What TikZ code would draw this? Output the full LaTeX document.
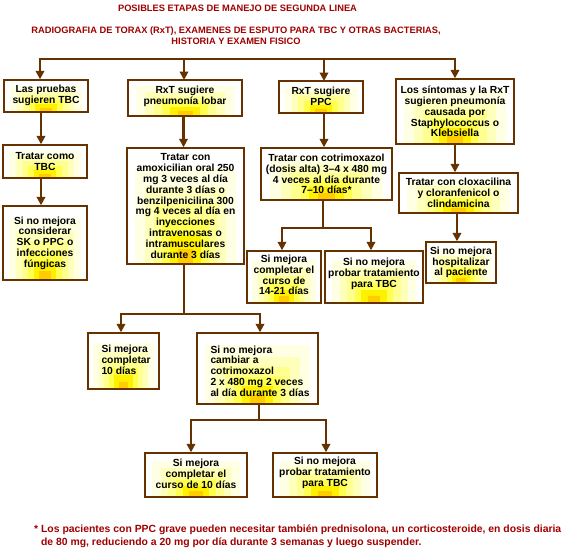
\documentclass[tikz,border=0pt]{standalone}
\usepackage{fontspec}
\setmainfont{Liberation Sans}
\usetikzlibrary{arrows.meta,calc}
\definecolor{brn}{HTML}{663300}
\definecolor{ttl}{HTML}{A00000}
\definecolor{g1}{HTML}{FFFFE4}
\definecolor{g2}{HTML}{FFFFBC}
\definecolor{g3}{HTML}{FFFF90}
\definecolor{g4}{HTML}{FFFF50}
\definecolor{g5}{HTML}{FFF000}
\definecolor{g6}{HTML}{FFCC00}
\tikzset{
  conn/.style={draw=brn, line width=2.6pt},
  arr/.style={conn, -{Triangle[width=8.5pt,length=8.5pt]}},
  glow/.style={path picture={
    \foreach \f/\c in {0.92/g1,0.74/g2,0.58/g3,0.42/g4,0.28/g5,0.14/g6}{
      \fill[\c] let \p1=(path picture bounding box.south west),
                    \p2=(path picture bounding box.north east) in
        ({(\x1+\x2)/2-\f*(\x2-\x1)*0.47},\y1) rectangle
        ({(\x1+\x2)/2+\f*(\x2-\x1)*0.47},{\y1+\f*(\y2-\y1)*0.9});
    }}},
  box/.style={draw=brn, line width=1.4pt, fill=white, rectangle, inner sep=0pt, glow},
  txt/.style={font=\fontsize{10.3}{10.8}\selectfont\bfseries, inner sep=0pt, text=black},
  ttlstyle/.style={font=\fontsize{9.3}{11}\selectfont\bfseries, text=ttl, inner sep=0pt, align=center},
  notestyle/.style={font=\fontsize{10.4}{13}\selectfont\bfseries, text=ttl, inner sep=0pt, align=left},
}
% name, x1, y1, x2, y2, dy, text (centered)
\newcommand\cbox[7]{%
  \node[box, minimum width={(#4-#2)*1pt}, minimum height={(#5-#3)*1pt}] (#1) at ({(#2+#4)/2},{(#3+#5)/2}) {};
  \node[txt, align=center] (#1t) at ([yshift={-(#6)*1pt}]#1.center) {#7};}
% left aligned text
\newcommand\lbox[7]{%
  \node[box, minimum width={(#4-#2)*1pt}, minimum height={(#5-#3)*1pt}] (#1) at ({(#2+#4)/2},{(#3+#5)/2}) {};
  \node[txt, align=left, anchor=west] (#1t) at ([xshift=14pt, yshift={-(#6)*1pt}]#1.west) {#7};}
\begin{document}
\begin{tikzpicture}[x=1pt,y=-1pt]
\useasboundingbox[fill=white] (0,0) rectangle (569,552);

\node[ttlstyle] (title) at (237.5,8.5) {POSIBLES ETAPAS DE MANEJO DE SEGUNDA LINEA};
\node[ttlstyle] (sub) at (236,36) {RADIOGRAFIA DE TORAX (RxT), EXAMENES DE ESPUTO PARA TBC Y OTRAS BACTERIAS,\\HISTORIA Y EXAMEN FISICO};

% boxes
\cbox{b1}{4}{80}{88}{112}{-1}{Las pruebas\\sugieren TBC}
\cbox{b1b}{3}{145}{87}{178}{0}{Tratar como\\TBC}
\cbox{b1c}{3}{206}{87}{280}{0}{Si no mejora\\considerar\\SK o PPC o\\infecciones\\fúngicas}

\cbox{b2}{128}{80}{242}{116}{-2}{RxT sugiere\\pneumonía lobar}
\cbox{b2b}{127}{148}{244}{264}{0}{Tratar con\\amoxicilian oral 250\\mg 3 veces al día\\durante 3 días o\\benzilpenicilina 300\\mg 4 veces al día en\\inyecciones\\intravenosas o\\intramusculares\\durante 3 días}

\cbox{b3}{279}{81}{363}{113}{-1}{RxT sugiere\\PPC}
\cbox{b3b}{261}{148}{392}{200}{0}{Tratar con cotrimoxazol\\(dosis alta) 3--4 x 480 mg\\4 veces al día durante\\7--10 días*}
\cbox{b3c}{247}{251}{321}{303}{-2}{Si mejora\\completar el\\curso de\\14-21 días}
\cbox{b3d}{325}{251}{423}{303}{-3}{Si no mejora\\probar tratamiento\\para TBC}

\cbox{b4}{396}{79}{514}{144}{0}{Los síntomas y la RxT\\sugieren pneumonía\\causada por\\Staphylococcus o\\Klebsiella}
\cbox{b4b}{399}{173}{518}{213}{0}{Tratar con cloxacilina\\y cloranfenicol o\\clindamicina}
\cbox{b4c}{426}{242}{496}{283}{0}{Si no mejora\\hospitalizar\\al paciente}

\lbox{b5}{88}{333}{159}{389}{-1}{Si mejora\\completar\\10 días}
\lbox{b6}{197}{333}{318}{404}{2.5}{Si no mejora\\cambiar a\\cotrimoxazol\\2 x 480 mg 2 veces\\al día durante 3 días}

\cbox{b7}{145}{453}{247}{497}{-1}{Si mejora\\completar el\\curso de 10 días}
\cbox{b8}{273}{453}{377}{497}{-2}{Si no mejora\\probar tratamiento\\para TBC}

% top bus
\coordinate (busL) at (40,59);
\coordinate (busR) at (455,59);
\draw[conn, line cap=rect] (busL) -- (busR);
\draw[arr] (busL) -- (busL |- b1.north);
\draw[arr] (184,59) -- (184,80);
\draw[arr] (324,59) -- (324,81);
\draw[arr] (busR) -- (busR |- b4.north);

% column 1
\draw[arr] ([xshift=-5pt]b1.south) -- ([xshift=-4pt]b1b.north);
\draw[arr] ([xshift=-4pt]b1b.south) -- ([xshift=-4pt]b1c.north);

% column 2
\draw[arr] ([xshift=-1.5pt]b2.south) -- ([xshift=-2pt]b2b.north);
\coordinate (j2) at ([xshift=-1.5pt]b2b.south |- 0,314);
\draw[conn] ([xshift=-1.5pt]b2b.south) -- (j2);
\coordinate (j2L) at (121,314);
\coordinate (j2R) at (260,314);
\draw[conn, line cap=rect] (j2L) -- (j2R);
\draw[arr] (j2L) -- (j2L |- b5.north);
\draw[arr] (j2R) -- (j2R |- b6.north);

\coordinate (j6L) at (191,420);
\coordinate (j6R) at (326,420);
\draw[conn] ([xshift=1.5pt]b6.south) -- ([xshift=1.5pt]b6.south |- j6L);
\draw[conn, line cap=rect] (j6L) -- (j6R);
\draw[arr] (j6L) -- (j6L |- b7.north);
\draw[arr] (j6R) -- (j6R |- b8.north);

% column 3
\draw[arr] ([xshift=3pt]b3.south) -- ([xshift=-2.5pt]b3b.north);
\coordinate (j3L) at (282,228);
\coordinate (j3R) at (371,228);
\draw[conn] ([xshift=-3.5pt]b3b.south) -- ([xshift=-3.5pt]b3b.south |- j3L);
\draw[conn, line cap=rect] (j3L) -- (j3R);
\draw[arr] (j3L) -- (j3L |- b3c.north);
\draw[arr] (j3R) -- (j3R |- b3d.north);

% column 4
\draw[arr] (b4.south) -- (b4.south |- b4b.north);
\draw[arr] ([xshift=-1.5pt]b4b.south) -- ([xshift=-1.5pt]b4b.south |- b4c.north);

% footnote
\node[notestyle, anchor=west] (note) at (34,536.5) {* Los pacientes con PPC grave pueden necesitar también prednisolona, un corticosteroide, en dosis diaria\\\phantom{* }de 80 mg, reduciendo a 20 mg por día durante 3 semanas y luego suspender.};
\end{tikzpicture}
\end{document}
